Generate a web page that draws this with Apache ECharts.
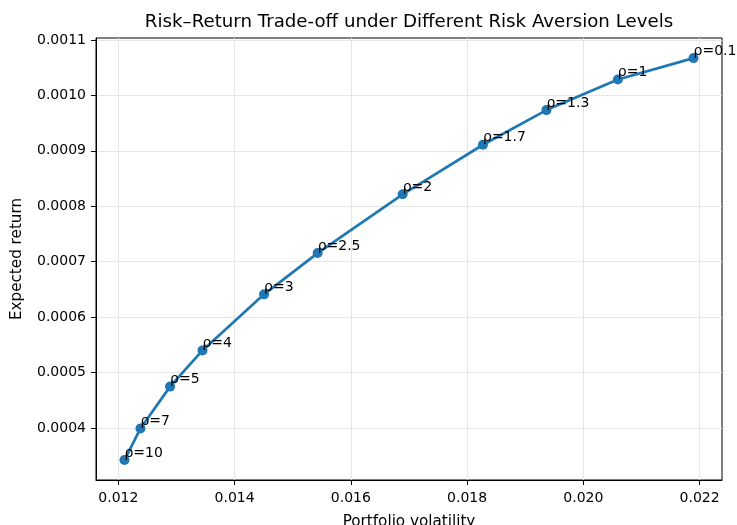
<!DOCTYPE html>
<html>
<head>
<meta charset="utf-8">
<script src="https://cdn.jsdelivr.net/npm/echarts@6/dist/echarts.min.js"></script>
<style>
  html, body { margin: 0; padding: 0; background: #fff; }
  #chart { width: 737px; height: 525px; }
</style>
</head>
<body>
<div id="chart"></div>
<script>
// ---- Data ----
const rhoLabels  = ['ρ=10', 'ρ=7', 'ρ=5', 'ρ=4', 'ρ=3', 'ρ=2.5', 'ρ=2', 'ρ=1.7', 'ρ=1.3', 'ρ=1', 'ρ=0.1'];
const volatility = [0.012105, 0.01238, 0.012889, 0.013447, 0.014506, 0.015428, 0.016891, 0.018273, 0.019365, 0.020593, 0.021895];
const expReturn  = [0.000342, 0.000399, 0.0004745, 0.0005399, 0.000641, 0.0007155, 0.0008215, 0.000911, 0.0009735, 0.0010286, 0.0010673];
const xTicks = [0.012, 0.014, 0.016, 0.018, 0.020, 0.022];
const yTicks = [0.0004, 0.0005, 0.0006, 0.0007, 0.0008, 0.0009, 0.0010, 0.0011];

const xMin = 0.011615, xMax = 0.022385;
const yMin = 0.000306, yMax = 0.0011036;

const FONT = 'DejaVu Sans';
const points = volatility.map((v, i) => ({ value: [v, expReturn[i]], name: rhoLabels[i] }));

const chart = echarts.init(document.getElementById('chart'), null, { renderer: 'canvas' });
chart.setOption({
  animation: false,
  backgroundColor: '#ffffff',
  textStyle: { fontFamily: FONT },
  title: {
    text: 'Risk–Return Trade-off under Different Risk Aversion Levels',
    left: 409,
    top: 13,
    textAlign: 'center',
    padding: 0,
    textStyle: { fontFamily: FONT, fontSize: 18.2, fontWeight: 'normal', color: '#000' }
  },
  grid: {
    left: 96, top: 38, width: 626, height: 442,
    containLabel: false,
    outerBoundsMode: 'none',
    show: true, borderColor: '#000', borderWidth: 1, backgroundColor: 'transparent'
  },
  xAxis: {
    type: 'value',
    min: xMin, max: xMax,
    splitNumber: 5,
    name: 'Portfolio volatility',
    nameLocation: 'middle',
    nameGap: 35,
    nameTextStyle: { fontFamily: FONT, fontSize: 15.2, color: '#000' },
    axisLine: { show: true, onZero: false, lineStyle: { color: '#000', width: 1 } },
    axisTick: { show: true, length: 5, customValues: xTicks, lineStyle: { color: '#000', width: 1 } },
    axisLabel: {
      customValues: xTicks,
      margin: 11,
      fontFamily: FONT, fontSize: 14, color: '#000',
      formatter: v => v.toFixed(3)
    },
    splitLine: { show: true, lineStyle: { color: '#e6e6e6', width: 1 } }
  },
  yAxis: {
    type: 'value',
    min: yMin, max: yMax,
    splitNumber: 8,
    name: 'Expected return',
    nameLocation: 'middle',
    nameGap: 71,
    nameTextStyle: { fontFamily: FONT, fontSize: 15.2, color: '#000' },
    axisLine: { show: true, onZero: false, lineStyle: { color: '#000', width: 1 } },
    axisTick: { show: true, length: 5, customValues: yTicks, lineStyle: { color: '#000', width: 1 } },
    axisLabel: {
      customValues: yTicks,
      margin: 10,
      fontFamily: FONT, fontSize: 14, color: '#000',
      formatter: v => v.toFixed(4)
    },
    splitLine: { show: true, lineStyle: { color: '#e6e6e6', width: 1 } }
  },
  series: [{
    type: 'line',
    data: points,
    showAllSymbol: true,
    symbol: 'circle',
    symbolSize: 10,
    lineStyle: { color: '#1f77b4', width: 2.7 },
    itemStyle: { color: '#1f77b4' },
    label: {
      show: true,
      position: 'inside',
      align: 'left',
      verticalAlign: 'bottom',
      offset: [0, 3],
      formatter: p => p.name,
      fontFamily: FONT, fontSize: 14, color: '#000'
    },
    labelLayout: { hideOverlap: false }
  }]
});
</script>
</body>
</html>
